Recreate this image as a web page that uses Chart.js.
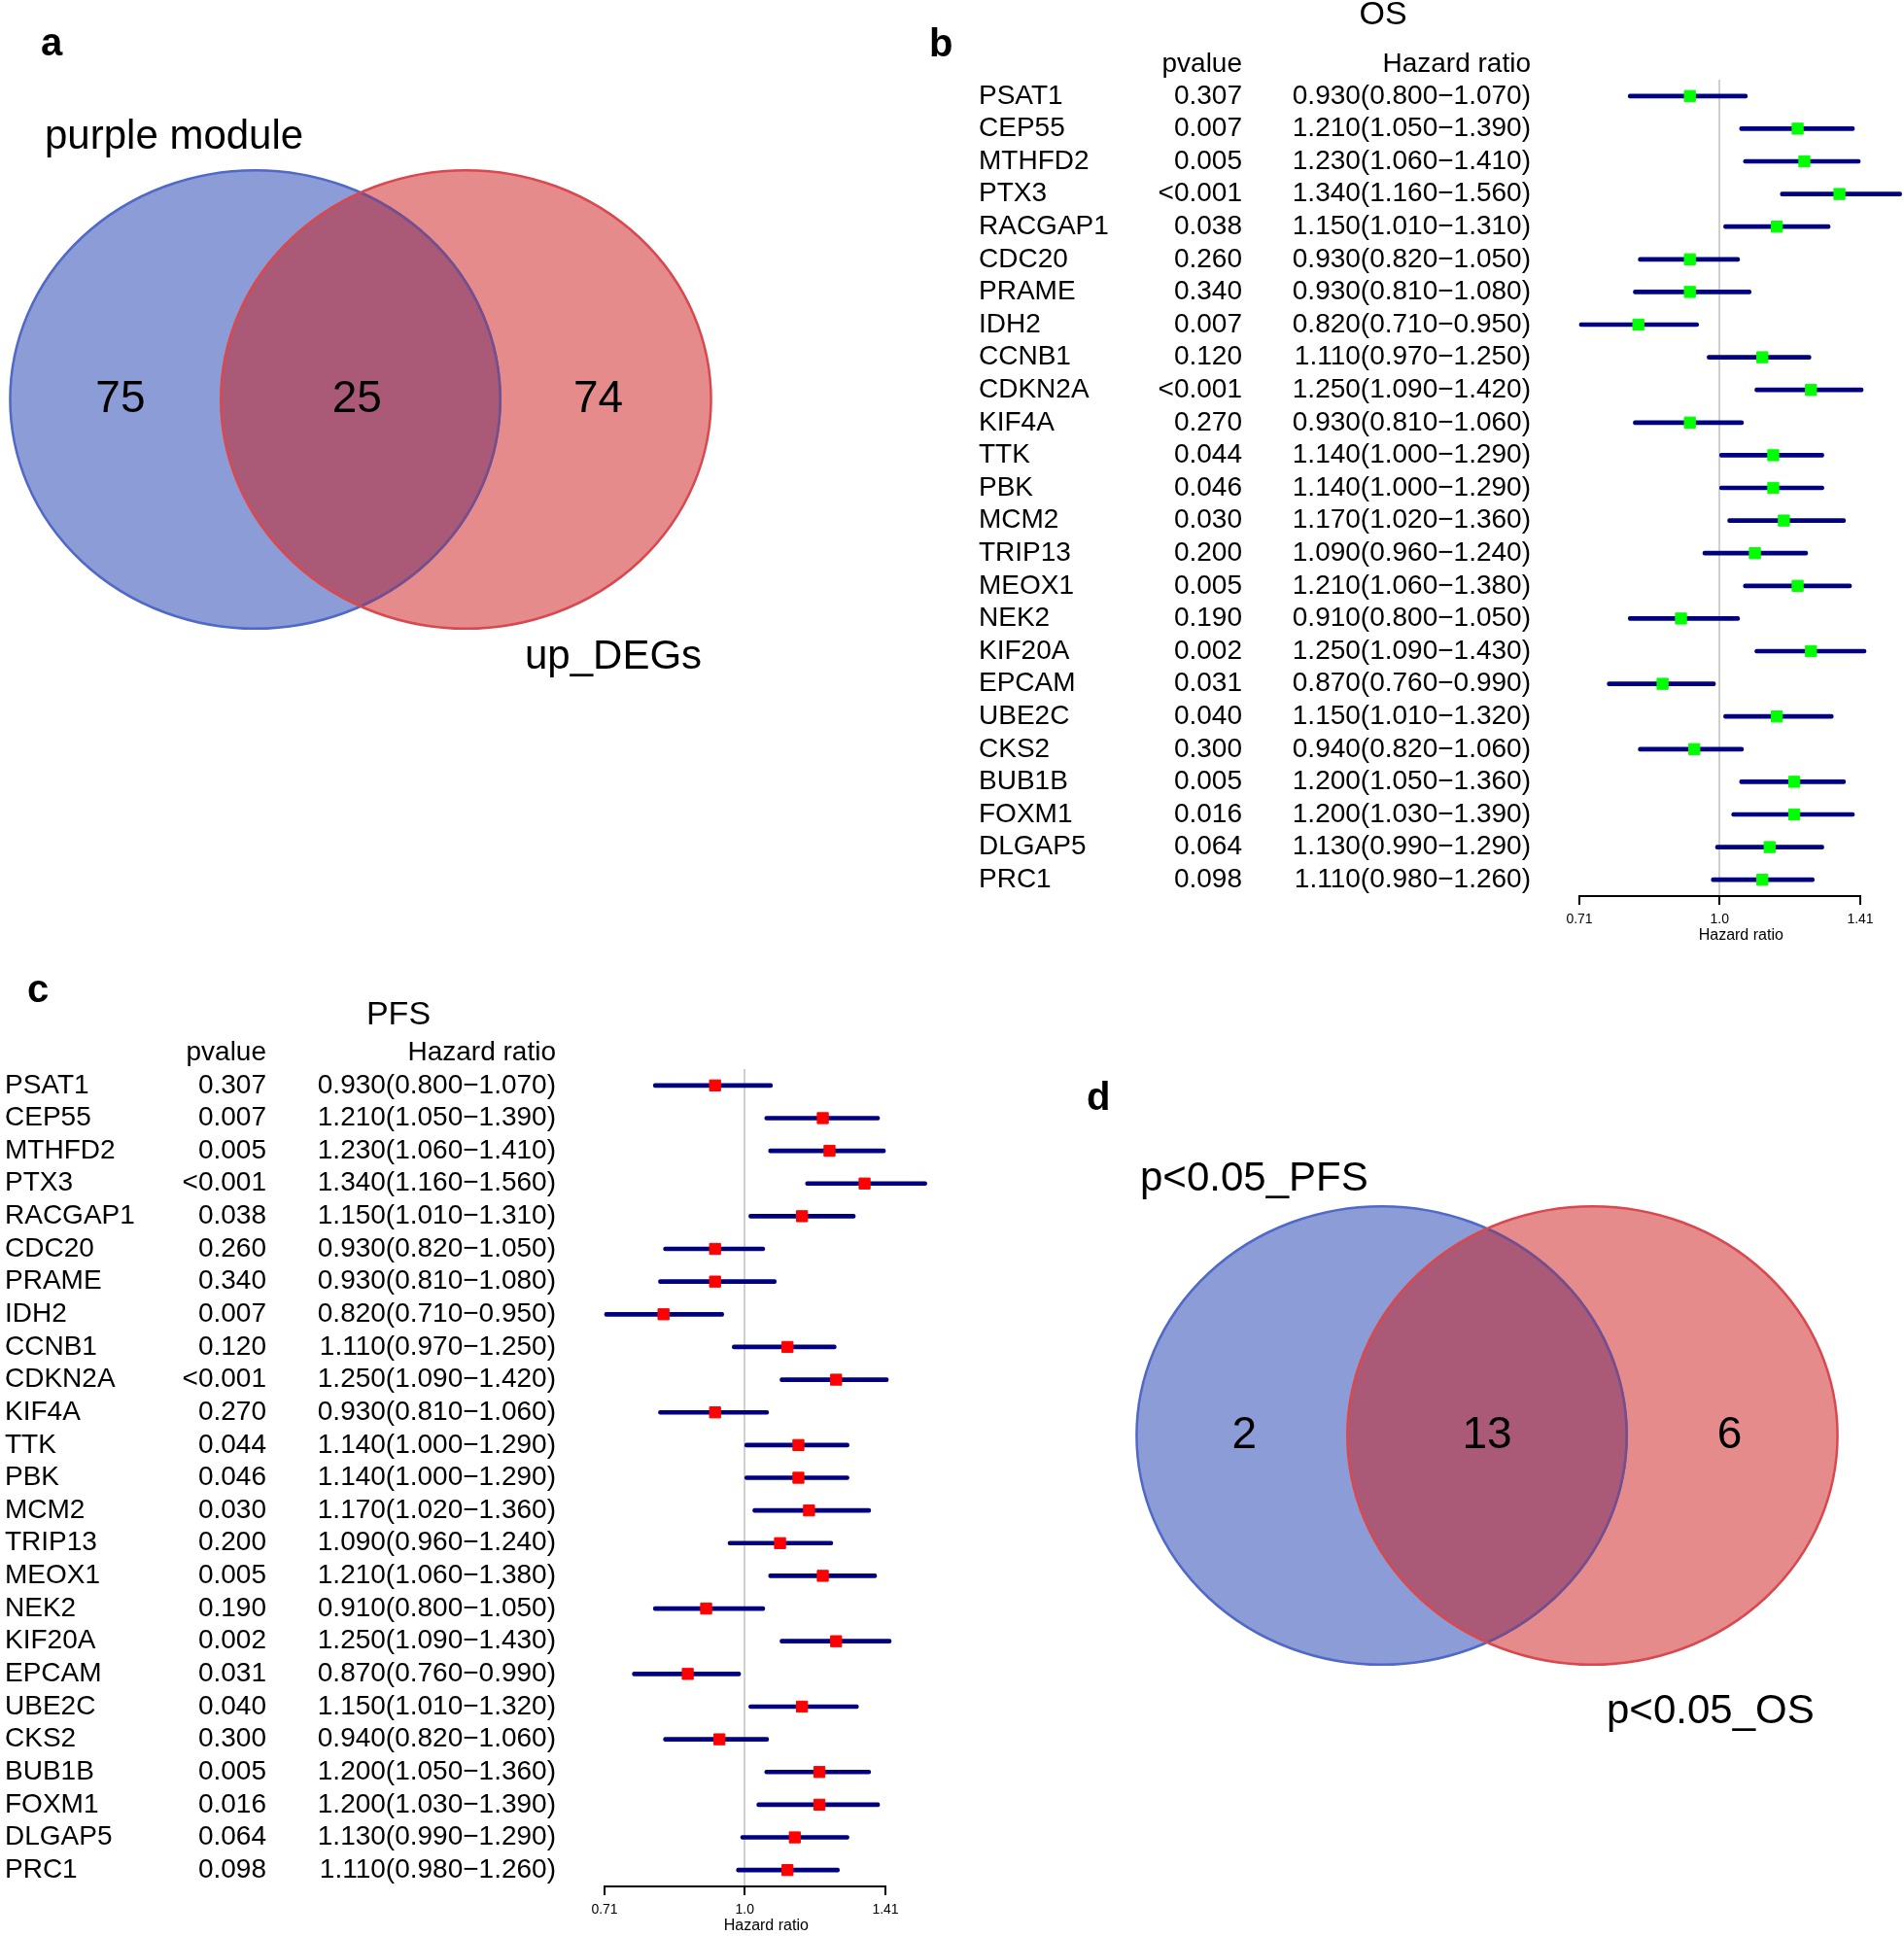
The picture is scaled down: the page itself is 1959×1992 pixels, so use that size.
<!DOCTYPE html>
<html>
<head>
<meta charset="utf-8">
<script src="https://cdn.jsdelivr.net/npm/chart.js@4.4.1/dist/chart.umd.min.js"></script>
<style>
  html, body { margin: 0; padding: 0; background: #fff; }
  #page { position: relative; width: 1959px; height: 1992px; overflow: hidden; background: #fff; }
  canvas { position: absolute; }
</style>
</head>
<body>
<div id="page">
  <canvas id="venn-a" width="940" height="760" style="left:0;top:0"></canvas>
  <canvas id="forest-os" width="1019" height="990" style="left:940px;top:0"></canvas>
  <canvas id="forest-pfs" width="980" height="1002" style="left:0;top:990px"></canvas>
  <canvas id="venn-d" width="859" height="750" style="left:1100px;top:1100px"></canvas>
</div>
<script>
const FONT = "'Liberation Sans', Arial, Helvetica, sans-serif";
Chart.defaults.font.family = FONT;
Chart.defaults.color = "#000";

// ---- forest plot data (OS and PFS tables show the same numbers in the figure) ----
const genes = ["PSAT1", "CEP55", "MTHFD2", "PTX3", "RACGAP1", "CDC20", "PRAME", "IDH2", "CCNB1",
  "CDKN2A", "KIF4A", "TTK", "PBK", "MCM2", "TRIP13", "MEOX1", "NEK2", "KIF20A", "EPCAM",
  "UBE2C", "CKS2", "BUB1B", "FOXM1", "DLGAP5", "PRC1"];
const pValues = ["0.307", "0.007", "0.005", "<0.001", "0.038", "0.260", "0.340", "0.007", "0.120",
  "<0.001", "0.270", "0.044", "0.046", "0.030", "0.200", "0.005", "0.190", "0.002", "0.031",
  "0.040", "0.300", "0.005", "0.016", "0.064", "0.098"];
const hazardRatio = [0.93, 1.21, 1.23, 1.34, 1.15, 0.93, 0.93, 0.82, 1.11, 1.25, 0.93, 1.14, 1.14,
  1.17, 1.09, 1.21, 0.91, 1.25, 0.87, 1.15, 0.94, 1.20, 1.20, 1.13, 1.11];
const hrLower = [0.80, 1.05, 1.06, 1.16, 1.01, 0.82, 0.81, 0.71, 0.97, 1.09, 0.81, 1.00, 1.00,
  1.02, 0.96, 1.06, 0.80, 1.09, 0.76, 1.01, 0.82, 1.05, 1.03, 0.99, 0.98];
const hrUpper = [1.07, 1.39, 1.41, 1.56, 1.31, 1.05, 1.08, 0.95, 1.25, 1.42, 1.06, 1.29, 1.29,
  1.36, 1.24, 1.38, 1.05, 1.43, 0.99, 1.32, 1.06, 1.36, 1.39, 1.29, 1.26];
const hrTicks = [0.71, 1.0, 1.41];
const hrTickLabels = ["0.71", "1.0", "1.41"];

// ---- venn data ----
const vennASets = ["purple module", "up_DEGs"];
const vennACounts = [75, 25, 74];
const vennDSets = ["p<0.05_PFS", "p<0.05_OS"];
const vennDCounts = [2, 13, 6];

const hrLabel = i =>
  `${hazardRatio[i].toFixed(3)}(${hrLower[i].toFixed(3)}\u2212${hrUpper[i].toFixed(3)})`;

function drawForest(canvasId, cfg) {
  // table columns, header, title and panel letter, rows placed on the y scale
  const tableText = {
    id: "tableText",
    afterDraw(chart) {
      const ctx = chart.ctx;
      const yScale = chart.scales.y;
      const xScale = chart.scales.x;
      ctx.save();
      ctx.fillStyle = "#000";
      ctx.textBaseline = "middle";
      ctx.font = `28px ${FONT}`;
      genes.forEach((gene, i) => {
        const py = yScale.getPixelForValue(i);
        ctx.textAlign = "left";
        ctx.fillText(gene, cfg.nameX, py);
        ctx.textAlign = "right";
        ctx.fillText(pValues[i], cfg.pX, py);
        ctx.fillText(hrLabel(i), cfg.hrX, py);
      });
      ctx.textAlign = "right";
      ctx.fillText("pvalue", cfg.pX, cfg.headerY);
      ctx.fillText("Hazard ratio", cfg.hrX, cfg.headerY);

      // axis title sits a little right of the 1.0 line in the figure
      ctx.textAlign = "center";
      ctx.font = `16px ${FONT}`;
      ctx.fillText("Hazard ratio", xScale.getPixelForValue(1) + 22, xScale.top + 41);

      ctx.textBaseline = "alphabetic";
      ctx.font = `34px ${FONT}`;
      ctx.fillText(cfg.title, cfg.titleX, cfg.titleY);
      ctx.textAlign = "left";
      ctx.font = `bold 40px ${FONT}`;
      ctx.fillText(cfg.panel, cfg.panelX, cfg.panelY);
      ctx.restore();
    }
  };

  new Chart(document.getElementById(canvasId), {
    data: {
      labels: genes,
      datasets: [
        {
          type: "scatter",
          order: 0,
          data: genes.map((g, i) => ({ x: hazardRatio[i], y: g })),
          pointStyle: "rect",
          pointRadius: 8,
          pointBorderWidth: 1,
          backgroundColor: cfg.pointColor,
          borderColor: cfg.pointColor,
          clip: false
        },
        {
          type: "bar",
          order: 1,
          indexAxis: "y",
          data: genes.map((g, i) => [hrLower[i], hrUpper[i]]),
          backgroundColor: "#000080",
          barThickness: 4,
          borderRadius: 2,
          borderSkipped: false,
          clip: false
        }
      ]
    },
    options: {
      responsive: false,
      animation: false,
      devicePixelRatio: 1,
      layout: { padding: cfg.padding },
      plugins: { legend: { display: false }, tooltip: { enabled: false } },
      scales: {
        y: { type: "category", labels: genes, offset: true, display: false },
        x: {
          type: "logarithmic",
          min: 0.71,
          max: 1.41,
          afterBuildTicks: axis => { axis.ticks = hrTicks.map(v => ({ value: v })); },
          afterFit: axis => { axis.height = 50; },
          ticks: {
            autoSkip: false,
            maxRotation: 0,
            padding: 7,
            color: "#000",
            font: { size: 14 },
            callback: value => hrTickLabels[hrTicks.indexOf(value)]
          },
          grid: {
            drawOnChartArea: true,
            color: c => (c.tick && c.tick.value === 1 ? "#d0d0d0" : "rgba(0,0,0,0)"),
            lineWidth: 2,
            tickColor: "#000",
            tickWidth: 2,
            tickLength: 9
          },
          border: { display: true, color: "#000", width: 2 },
          title: { display: false }
        }
      }
    },
    plugins: [tableText]
  });
}

function drawVenn(canvasId, cfg) {
  const centers = [-0.43, 0.43];
  const vennShapes = {
    id: "vennShapes",
    beforeDatasetsDraw(chart) {
      const { ctx, scales: { x, y } } = chart;
      const ell = c => {
        const cx = x.getPixelForValue(c);
        const cy = y.getPixelForValue(0);
        ctx.beginPath();
        ctx.ellipse(cx, cy, x.getPixelForValue(c + 1) - cx, y.getPixelForValue(-1) - cy, 0, 0, Math.PI * 2);
      };
      ctx.save();
      ell(centers[0]); ctx.fillStyle = "#8b9cd6"; ctx.fill();
      ell(centers[1]); ctx.fillStyle = "#e68b8b"; ctx.fill();
      // overlap
      ctx.save();
      ell(centers[0]); ctx.clip();
      ell(centers[1]); ctx.fillStyle = "#aa5a77"; ctx.fill();
      ctx.restore();
      ctx.lineWidth = 2.5;
      ell(centers[0]); ctx.strokeStyle = "#5068c8"; ctx.stroke();
      ctx.save();
      ell(centers[1]); ctx.clip();
      ell(centers[0]); ctx.strokeStyle = "#7a4c88"; ctx.stroke();
      ctx.restore();
      ell(centers[1]); ctx.strokeStyle = "#d9484f"; ctx.stroke();
      ctx.restore();
    },
    afterDatasetsDraw(chart) {
      const ctx = chart.ctx;
      const pts = chart.getDatasetMeta(0).data;
      ctx.save();
      ctx.fillStyle = "#000";
      ctx.textAlign = "center";
      ctx.textBaseline = "middle";
      ctx.font = `46px ${FONT}`;
      cfg.counts.forEach((n, i) => ctx.fillText(String(n), pts[i].x, pts[i].y));
      ctx.textAlign = "left";
      ctx.textBaseline = "alphabetic";
      ctx.font = `42px ${FONT}`;
      cfg.sets.forEach((s, i) => ctx.fillText(s, cfg.setPos[i][0], cfg.setPos[i][1]));
      ctx.font = `bold 40px ${FONT}`;
      ctx.fillText(cfg.panel, cfg.panelPos[0], cfg.panelPos[1]);
      ctx.restore();
    }
  };

  new Chart(document.getElementById(canvasId), {
    type: "scatter",
    data: {
      datasets: [{
        data: cfg.counts.map((n, i) => ({ x: cfg.labelX[i], y: 0 })),
        pointRadius: 0
      }]
    },
    options: {
      responsive: false,
      animation: false,
      devicePixelRatio: 1,
      layout: { padding: cfg.padding },
      plugins: { legend: { display: false }, tooltip: { enabled: false } },
      scales: {
        x: { type: "linear", min: -1.4, max: 1.4, display: false },
        y: { type: "linear", min: -1.2, max: 1.2, display: false }
      }
    },
    plugins: [vennShapes]
  });
}

drawVenn("venn-a", {
  sets: vennASets, counts: vennACounts, panel: "a", labelX: [-0.98, -0.015, 0.97],
  padding: { left: 18, right: 216, top: 128, bottom: 66 },
  setPos: [[46, 153], [540, 688]], panelPos: [42, 57]
});

drawForest("forest-os", {
  title: "OS", panel: "b", pointColor: "#00ff00",
  padding: { left: 685, right: 45, top: 82, bottom: 18 },
  nameX: 67, pX: 338, hrX: 635, headerY: 66,
  titleX: 483, titleY: 25, panelX: 16, panelY: 58
});

drawForest("forest-pfs", {
  title: "PFS", panel: "c", pointColor: "#ff0000",
  padding: { left: 622, right: 69, top: 110, bottom: 1 },
  nameX: 5, pX: 274, hrX: 572, headerY: 93,
  titleX: 410, titleY: 64, panelX: 28, panelY: 41
});

drawVenn("venn-d", {
  sets: vennDSets, counts: vennDCounts, panel: "d", labelX: [-0.99, 0, 0.99],
  padding: { left: 77, right: 76, top: 94, bottom: 90 },
  setPos: [[73, 125], [553, 673]], panelPos: [18, 42]
});
</script>
</body>
</html>
